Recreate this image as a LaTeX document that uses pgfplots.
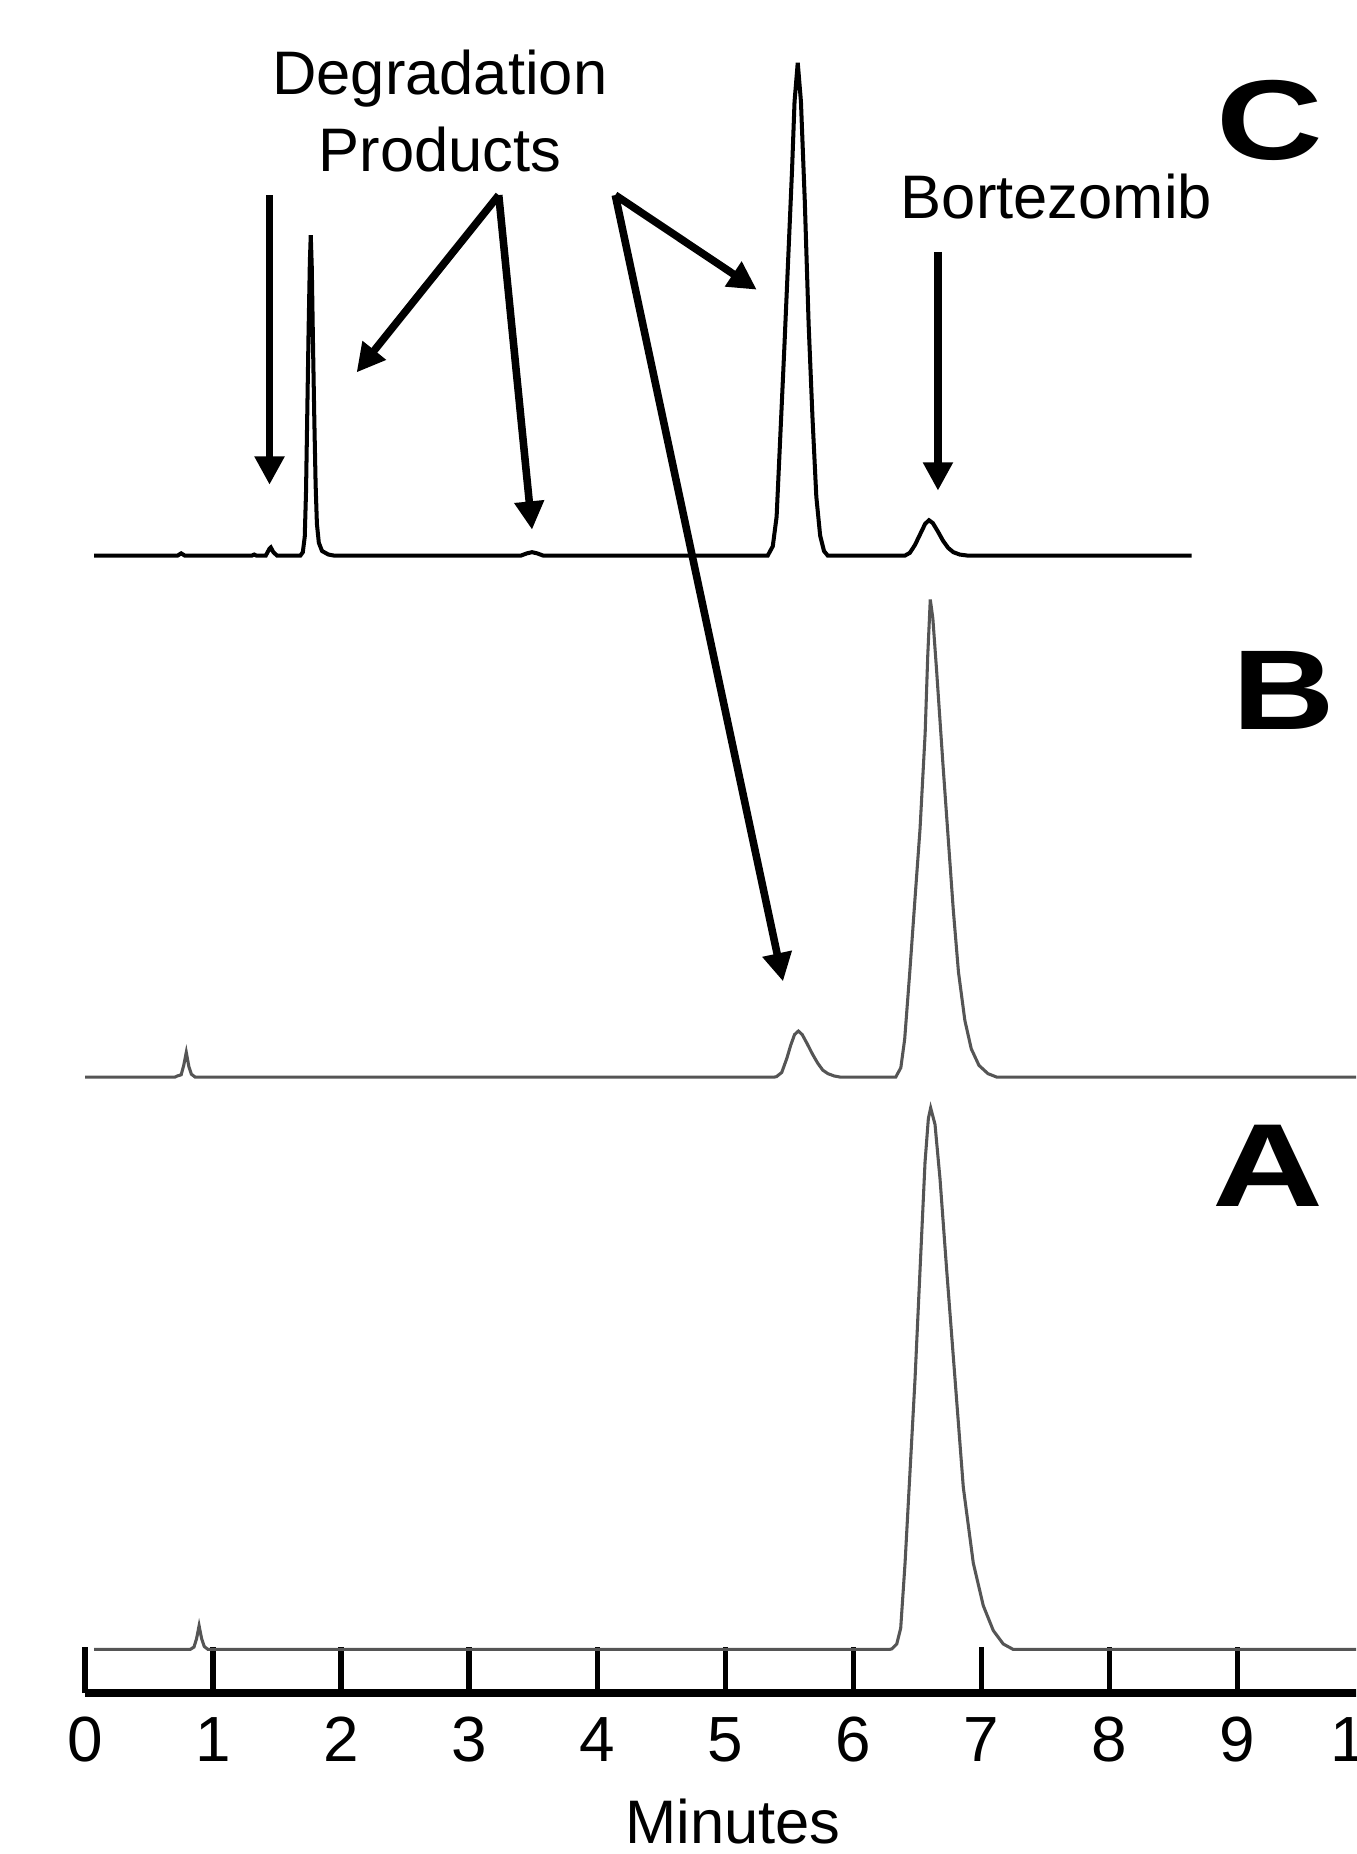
\documentclass[border=0pt]{standalone}
\usepackage{pgfplots}
\pgfplotsset{compat=1.18}
\usepackage{pgfplotstable}
\usepackage{fontspec}
\setmainfont{Liberation Sans}
\usetikzlibrary{arrows.meta}
\definecolor{tracegray}{HTML}{555555}

% Trace C (top, black): time (min), height above its baseline
\pgfplotstableread{
t h
0.07 0
0.72 0
0.75 2
0.78 0
1.30 0
1.32 1
1.34 0
1.41 0
1.44 6
1.45 7
1.47 3
1.50 0
1.68 0
1.70 3
1.715 16
1.725 54
1.735 122
1.745 190
1.755 249
1.762 271
1.77 244
1.78 176
1.79 114
1.80 60
1.81 27
1.825 11
1.85 4
1.90 1
1.95 0
3.40 0
3.45 2
3.49 3
3.53 2
3.58 0
5.33 0
5.37 8
5.40 33
5.43 104
5.46 175
5.49 250
5.52 325
5.54 384
5.565 417
5.59 384
5.62 300
5.65 196
5.68 117
5.71 50
5.74 17
5.77 4
5.80 0
6.40 0
6.44 2.4
6.48 9
6.52 18
6.56 27
6.59 30
6.62 27.6
6.66 20.4
6.70 12.6
6.74 6.6
6.78 3
6.83 1
6.90 0
8.64 0
}\traceC

% Trace B (middle, grey)
\pgfplotstableread{
t h
0 0
0.70 0
0.72 1
0.75 2
0.77 10
0.79 21
0.81 9
0.83 2.5
0.86 0
5.38 0
5.40 0.5
5.44 4
5.48 16
5.51 27
5.54 36
5.57 39
5.60 36
5.64 28
5.68 19.5
5.72 12
5.76 6
5.80 3
5.85 1
5.90 0
6.33 0
6.37 8
6.40 32
6.44 89
6.48 150
6.52 210
6.56 291
6.58 356
6.60 404
6.62 388
6.65 343
6.70 263
6.74 202
6.78 141
6.82 89
6.87 48
6.92 24
6.98 10
7.05 3
7.12 0
10.3 0
}\traceB

% Trace A (bottom, grey)
\pgfplotstableread{
t h
0.07 0
0.82 0
0.85 2
0.87 9
0.89 20
0.91 9
0.93 2.5
0.96 0
6.28 0
6.30 0.5
6.338 4.6
6.369 18
6.403 73
6.442 151
6.481 229
6.520 321
6.559 412
6.585 449
6.603 458
6.637 444
6.676 398
6.728 321
6.793 229
6.858 137
6.936 73
7.014 37
7.092 16
7.170 4.6
7.248 0
10.3 0
}\traceA

\begin{document}
\begin{tikzpicture}
\path[use as bounding box, clip] (-18pt,-34pt) rectangle (268.75pt,358pt);
\begin{axis}[
  x=27.075pt, y=0.25pt,
  xmin=0, xmax=10.4, ymin=0, ymax=1432,
  axis x line=bottom, axis y line=none,
  axis line style={line width=1.8pt, -},
  xtick={0,1,...,10},
  tick align=inside,
  major tick length=9.75pt,
  every tick/.style={line width=1.2pt, black},
  minor tick num=0,
  /pgf/number format/assume math mode=true,
  xticklabel style={font=\fontsize{13.5}{13.5}\selectfont, anchor=base, yshift=-14.5pt},
  clip=false,
  font=\fontsize{13}{15.6}\selectfont,
]
\addplot[black, line width=0.85pt, no markers] table[x=t, y expr=\thisrow{h}+962] {\traceC};
\addplot[tracegray, line width=0.65pt, no markers] table[x=t, y expr=\thisrow{h}+521] {\traceB};
\addplot[tracegray, line width=0.65pt, no markers] table[x=t, y expr=\thisrow{h}+37] {\traceA};

% annotations
\node[anchor=base] at (axis cs:2.77,1352) {Degradation};
\node[anchor=base] at (axis cs:2.77,1287) {Products};
\node[anchor=base] at (axis cs:7.585,1247) {Bortezomib};
\node[anchor=base] at (axis cs:5.06,-127) {Minutes};

\node[anchor=base, font=\bfseries\fontsize{24}{24}\selectfont] at (axis cs:9.25,1297) {\scalebox{1.3}[1]{C}};
\node[anchor=base, font=\bfseries\fontsize{24}{24}\selectfont] at (axis cs:9.36,815) {\scalebox{1.25}[1]{B}};
\node[anchor=base, font=\bfseries\fontsize{25}{25}\selectfont] at (axis cs:9.24,412) {\scalebox{1.3}[1]{A}};

\begin{scope}[line width=1.6pt, -{Triangle[length=6pt, width=6pt]}]
\draw (axis cs:1.44,1267) -- (axis cs:1.44,1022);
\draw (axis cs:3.23,1267) -- (axis cs:2.12,1117);
\draw (axis cs:3.23,1267) -- (axis cs:3.49,984);
\draw (axis cs:4.14,1267) -- (axis cs:5.245,1187);
\draw (axis cs:4.14,1267) -- (axis cs:5.45,602);
\draw (axis cs:6.66,1219) -- (axis cs:6.66,1017);
\end{scope}
\end{axis}
\end{tikzpicture}
\end{document}
